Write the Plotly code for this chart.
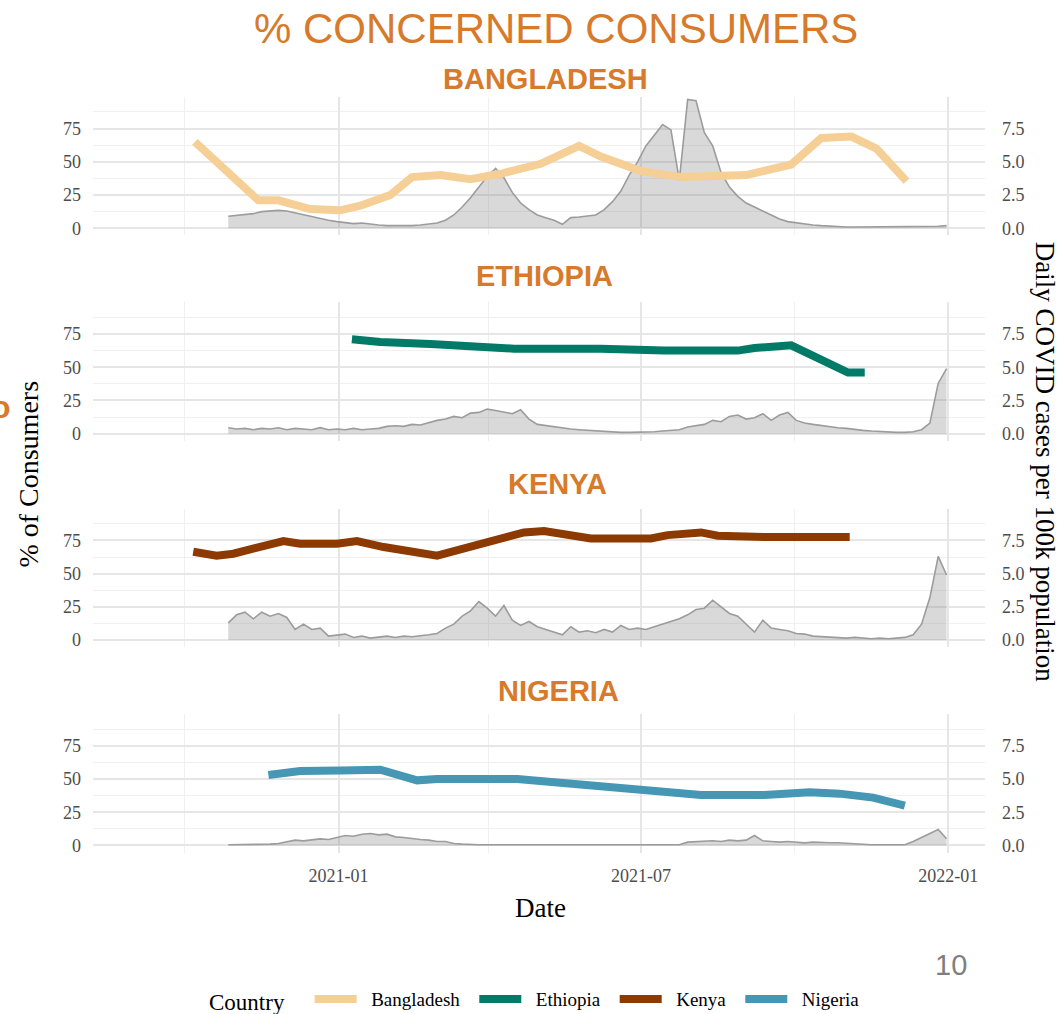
import pandas as pd
import plotly.graph_objects as go
from plotly.subplots import make_subplots

# --- data -------------------------------------------------------------
countries = ["Bangladesh", "Ethiopia", "Kenya", "Nigeria"]
line_colors = ["#F5CF95", "#017A68", "#8C3A02", "#4697B4"]

# % of consumers concerned (survey waves)
bgd_dates = ["2020-10-07", "2020-11-14", "2020-11-26", "2020-12-15", "2021-01-02", "2021-01-14",
             "2021-02-01", "2021-02-14", "2021-03-03", "2021-03-21", "2021-04-08", "2021-05-02",
             "2021-05-25", "2021-06-07", "2021-07-01", "2021-07-25", "2021-08-06", "2021-09-02",
             "2021-09-29", "2021-10-17", "2021-11-04", "2021-11-19", "2021-12-07"]
bgd_pct = [65, 21, 21, 14.5, 13.5, 17, 25, 38.5, 40, 37, 41, 48.5, 62, 54, 43, 38.5, 39, 40,
           48, 68, 69, 60, 35.5]

eth_dates = ["2021-01-09", "2021-01-26", "2021-02-25", "2021-03-31", "2021-04-16", "2021-06-07",
             "2021-07-15", "2021-08-28", "2021-09-07", "2021-09-29", "2021-11-02", "2021-11-12"]
eth_pct = [71, 69, 67.5, 65.5, 64, 64, 62.5, 62.5, 64.5, 66.5, 46, 46]

ken_dates = ["2020-10-06", "2020-10-20", "2020-10-30", "2020-11-29", "2020-12-09", "2020-12-31",
             "2021-01-12", "2021-01-28", "2021-03-01", "2021-03-29", "2021-04-22", "2021-05-04",
             "2021-05-18", "2021-06-01", "2021-07-07", "2021-07-17", "2021-08-06", "2021-08-16",
             "2021-09-15", "2021-11-03"]
ken_pct = [66.5, 63.5, 65, 74.5, 72.5, 72.5, 74.5, 70, 63.5, 72.5, 81, 82, 80, 76.5, 76.5, 79,
           81, 78.5, 77.5, 77.5]

nga_dates = ["2020-11-20", "2020-12-09", "2021-01-02", "2021-01-09", "2021-01-26", "2021-02-17",
             "2021-03-01", "2021-04-18", "2021-06-12", "2021-08-06", "2021-09-13", "2021-10-10",
             "2021-10-28", "2021-11-17", "2021-12-06"]
nga_pct = [53, 56, 56.5, 57, 57, 49, 50, 50, 44, 38, 38, 40, 39, 36, 30]

# daily covid cases per 100k, sampled every 5 days from 2020-10-27
case_start = "2020-10-27"
bgd_cases = [0.9, 0.95, 1.0, 1.1, 1.25, 1.3, 1.35, 1.3, 1.15, 1.0,
             0.85, 0.75, 0.6, 0.5, 0.45, 0.35, 0.4, 0.3, 0.25, 0.2,
             0.2, 0.15, 0.2, 0.25, 0.3, 0.4, 0.6, 1.0, 1.6, 2.3,
             3.1, 3.9, 4.5, 3.8, 2.7, 1.9, 1.4, 1.0, 0.8, 0.6,
             0.3, 0.8, 0.85, 0.9, 1.0, 1.4, 2.0, 2.8, 4.0, 5.0,
             6.2, 7.0, 7.8, 7.4, 3.6, 9.7, 9.6, 7.2, 6.2, 4.2,
             3.1, 2.4, 1.9, 1.6, 1.3, 1.0, 0.7, 0.5, 0.4, 0.3,
             0.25, 0.2, 0.15, 0.1, 0.1, 0.1, 0.1, 0.1, 0.1, 0.1,
             0.1, 0.1, 0.1, 0.1, 0.1, 0.15, 0.2]
eth_cases = [0.45, 0.35, 0.4, 0.3, 0.4, 0.35, 0.45, 0.3, 0.4, 0.35,
             0.3, 0.45, 0.3, 0.35, 0.3, 0.4, 0.3, 0.35, 0.4, 0.55,
             0.6, 0.55, 0.7, 0.65, 0.85, 1.0, 1.1, 1.3, 1.2, 1.55,
             1.6, 1.85, 1.75, 1.6, 1.5, 1.8, 1.1, 0.7, 0.6, 0.5,
             0.45, 0.35, 0.3, 0.25, 0.2, 0.15, 0.15, 0.1, 0.1, 0.1,
             0.1, 0.15, 0.2, 0.25, 0.3, 0.5, 0.6, 0.7, 1.0, 0.9,
             1.3, 1.4, 1.1, 1.2, 1.5, 1.0, 1.4, 1.6, 1.0, 0.8,
             0.7, 0.6, 0.5, 0.45, 0.4, 0.3, 0.25, 0.2, 0.15, 0.15,
             0.1, 0.1, 0.15, 0.3, 0.8, 3.8, 4.9]
ken_cases = [1.3, 1.9, 2.1, 1.6, 2.1, 1.8, 2.0, 1.7, 0.8, 1.2,
             0.8, 0.9, 0.3, 0.4, 0.45, 0.2, 0.3, 0.15, 0.25, 0.3,
             0.2, 0.3, 0.25, 0.3, 0.4, 0.5, 0.9, 1.2, 1.8, 2.2,
             2.9, 2.4, 1.8, 2.6, 1.5, 1.1, 1.4, 1.0, 0.8, 0.6,
             0.4, 1.0, 0.6, 0.7, 0.55, 0.8, 0.6, 1.1, 0.8, 0.9,
             0.8, 1.0, 1.2, 1.4, 1.6, 1.9, 2.3, 2.4, 3.0, 2.5,
             2.0, 1.8, 1.2, 0.6, 1.5, 0.9, 0.8, 0.7, 0.5, 0.45,
             0.3, 0.25, 0.2, 0.2, 0.15, 0.2, 0.15, 0.1, 0.15, 0.1,
             0.15, 0.2, 0.4, 1.2, 3.2, 6.3, 4.9]
nga_cases = [0.05, 0.05, 0.05, 0.1, 0.1, 0.1, 0.15, 0.3, 0.4, 0.35,
             0.45, 0.5, 0.45, 0.6, 0.75, 0.7, 0.85, 0.9, 0.8, 0.85,
             0.65, 0.6, 0.5, 0.45, 0.4, 0.3, 0.3, 0.15, 0.1, 0.05,
             0.05, 0.05, 0.05, 0.05, 0.05, 0.05, 0.05, 0.05, 0.05, 0.05,
             0.05, 0.05, 0.05, 0.05, 0.05, 0.05, 0.05, 0.05, 0.05, 0.05,
             0.05, 0.05, 0.05, 0.05, 0.05, 0.25, 0.3, 0.3, 0.35, 0.3,
             0.4, 0.35, 0.4, 0.75, 0.35, 0.3, 0.25, 0.3, 0.25, 0.2,
             0.25, 0.2, 0.2, 0.2, 0.15, 0.1, 0.05, 0.05, 0.05, 0.05,
             0.05, 0.05, 0.3, 0.6, 0.9, 1.2, 0.5]

pct_dates = [bgd_dates, eth_dates, ken_dates, nga_dates]
pct_vals = [bgd_pct, eth_pct, ken_pct, nga_pct]
case_vals = [bgd_cases, eth_cases, ken_cases, nga_cases]

# --- layout helpers: pixel -> paper ------------------------------------
# figure is a bit taller than the 1014px window so the legend box
# fits without plotly shrinking the plot area
W, H = 1063, 1034
L, R = 93, 985


def px_x(x):
    return (x - L) / (R - L)


def px_y(y):
    return 1 - y / H


ORANGE = "#D77A2B"
SERIF = "Liberation Serif"
panel_tops = [97, 303, 510, 716]
panel_h = 139
NB = "\u00a0"

fig = make_subplots(rows=4, cols=1, specs=[[{"secondary_y": True}]] * 4)

for i, name in enumerate(countries):
    r = i + 1
    dates = pd.date_range(case_start, periods=len(case_vals[i]), freq="5D")
    fig.add_trace(go.Scatter(
        x=dates, y=case_vals[i], mode="lines", fill="tozeroy",
        fillcolor="rgba(128,128,128,0.3)", line=dict(color="#9C9C9C", width=1.6),
        showlegend=False, hoverinfo="skip"), row=r, col=1, secondary_y=False)
    fig.add_trace(go.Scatter(
        x=pd.to_datetime(pct_dates[i]), y=pct_vals[i], mode="lines",
        name=NB * 2 + name + NB * 2,
        line=dict(color=line_colors[i], width=8), legendgroup=name),
        row=r, col=1, secondary_y=True)

    top, bot = panel_tops[i], panel_tops[i] + panel_h
    # cases axis (primary) on the right
    fig.update_yaxes(row=r, col=1, secondary_y=False, domain=[px_y(bot), px_y(top)],
                     side="right", range=[-0.53, 9.9], dtick=2.5, tick0=0, tickformat=".1f",
                     showgrid=True, gridcolor="#E6E6E6", gridwidth=1.6,
                     minor=dict(dtick=1.25, tick0=0, showgrid=True, gridcolor="#F0F0F0", gridwidth=1),
                     zeroline=False, ticks="", ticklabelstandoff=16,
                     tickfont=dict(family=SERIF, size=18, color="#4D4D4D"))
    # % of consumers (overlay) on the left
    fig.update_yaxes(row=r, col=1, secondary_y=True, side="left", range=[-5.3, 99],
                     dtick=25, tick0=0, showgrid=False, zeroline=False, ticks="",
                     ticklabelstandoff=11,
                     tickfont=dict(family=SERIF, size=18, color="#4D4D4D"))
    fig.update_xaxes(row=r, col=1, domain=[0, 1], range=["2020-08-07", "2022-01-23"],
                     type="date", dtick="M6", tick0="2021-01-01", tickformat="%Y-%m",
                     showgrid=True, gridcolor="#E6E6E6", gridwidth=1.6, zeroline=False,
                     minor=dict(dtick="M3", tick0="2020-10-01", showgrid=True,
                                gridcolor="#F0F0F0", gridwidth=1),
                     showticklabels=(r == 4), ticks="", ticklabelstandoff=10,
                     tickfont=dict(family=SERIF, size=18, color="#4D4D4D"))

annotations = [
    dict(text="% CONCERNED CONSUMERS", x=px_x(556), y=px_y(29), font=dict(family="Liberation Sans", size=42, color=ORANGE)),
    dict(text="<b>BANGLADESH</b>", x=px_x(545), y=px_y(79), font=dict(family="Liberation Sans", size=29, color=ORANGE)),
    dict(text="<b>ETHIOPIA</b>", x=px_x(544), y=px_y(277), font=dict(family="Liberation Sans", size=29, color=ORANGE)),
    dict(text="<b>KENYA</b>", x=px_x(557), y=px_y(485), font=dict(family="Liberation Sans", size=29, color=ORANGE)),
    dict(text="<b>NIGERIA</b>", x=px_x(558), y=px_y(693), font=dict(family="Liberation Sans", size=29, color=ORANGE)),
    dict(text="% of Consumers", x=px_x(29), y=px_y(476), textangle=-90, font=dict(family=SERIF, size=28, color="black")),
    dict(text="Daily COVID cases per 100k population", x=px_x(1045), y=px_y(463), textangle=90,
         font=dict(family=SERIF, size=27, color="black")),
    dict(text="Date", x=px_x(540), y=px_y(911), font=dict(family=SERIF, size=27, color="black")),
    dict(text="10", x=px_x(951), y=px_y(968), font=dict(family="Liberation Sans", size=29, color="#7F7F7F")),
    dict(text="<b>o</b>", x=px_x(1), y=px_y(408), font=dict(family="Liberation Sans", size=32, color=ORANGE)),
]
for a in annotations:
    a.update(xref="paper", yref="paper", showarrow=False, xanchor="center", yanchor="middle")

fig.update_layout(
    width=W, height=H,
    margin=dict(l=L, r=W - R, t=0, b=0),
    paper_bgcolor="white", plot_bgcolor="white",
    annotations=annotations,
    showlegend=True,
    legend=dict(orientation="h", x=px_x(207), y=px_y(1003), xanchor="left", yanchor="middle",
                title=dict(text="Country" + NB * 3, font=dict(family=SERIF, size=23, color="black")),
                font=dict(family=SERIF, size=19, color="black"), itemwidth=42,
                bgcolor="rgba(0,0,0,0)"),
)

# the page is exactly the figure: drop the default body margin
fig.write_html("out.html", config={"displayModeBar": False},
               post_script="document.body.style.margin='0';document.body.style.overflow='hidden';")
